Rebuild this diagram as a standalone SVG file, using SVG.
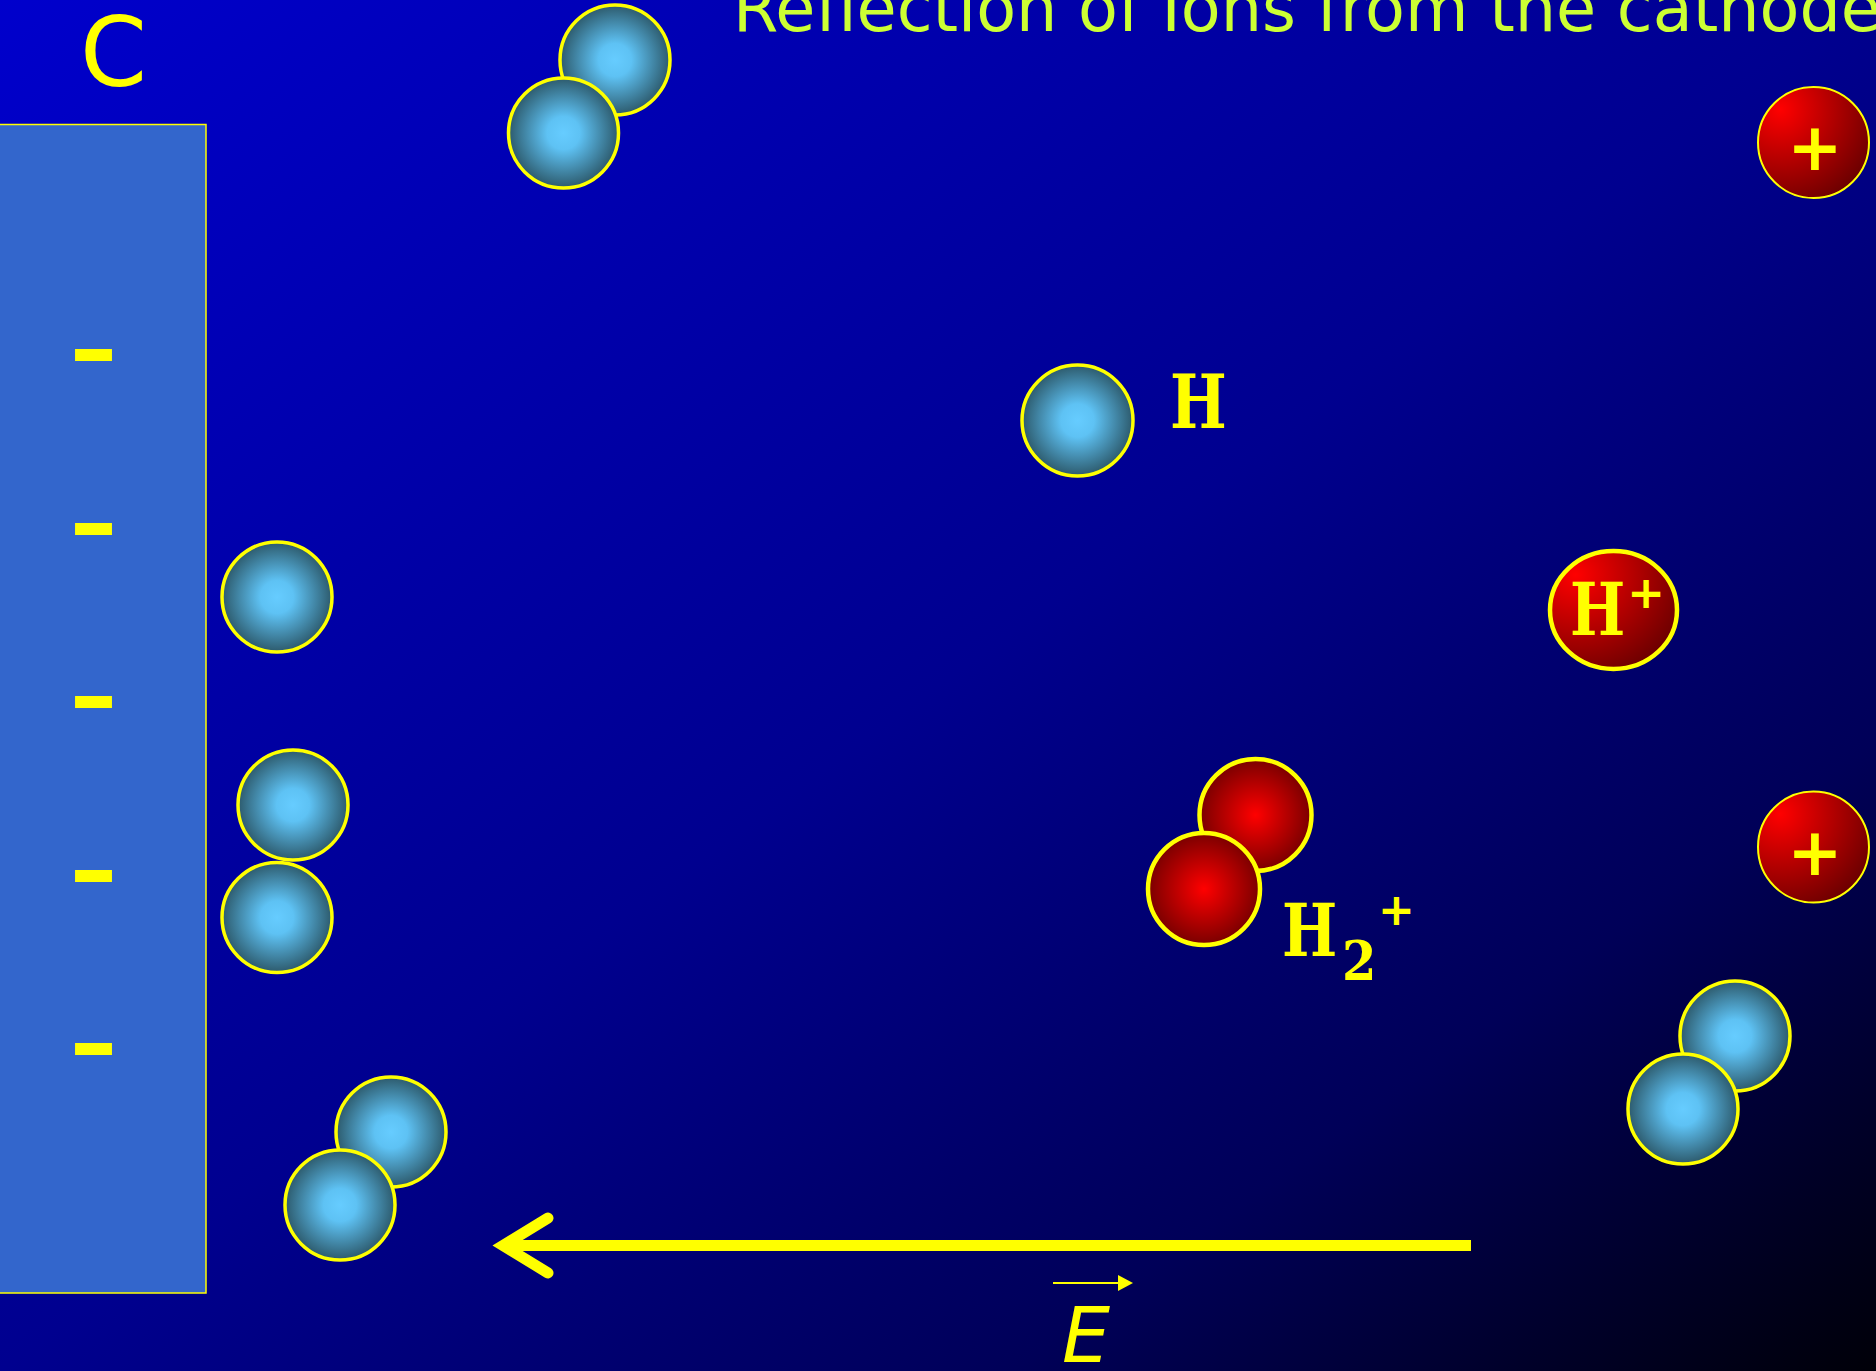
<svg xmlns="http://www.w3.org/2000/svg" width="1876" height="1371" viewBox="0 0 1876 1371">
  <defs>
    <linearGradient id="bg" x1="0" y1="0" x2="1" y2="1">
      <stop offset="0" stop-color="#0000cc"/>
      <stop offset="0.5" stop-color="#00008f"/>
      <stop offset="0.77" stop-color="#000058"/>
      <stop offset="1" stop-color="#000008"/>
    </linearGradient>
    <radialGradient id="gBlue" cx="0.5" cy="0.5" r="0.5">
      <stop offset="0" stop-color="#66ccff"/>
      <stop offset="0.3" stop-color="#5ec2f4"/>
      <stop offset="1" stop-color="#2d5a6c"/>
    </radialGradient>
    <radialGradient id="gIon" cx="0.22" cy="0.22" r="0.95" fx="0.2" fy="0.2">
      <stop offset="0" stop-color="#ff0000"/>
      <stop offset="1" stop-color="#620000"/>
    </radialGradient>
    <radialGradient id="gMol" cx="0.5" cy="0.5" r="0.5">
      <stop offset="0" stop-color="#ff0000"/>
      <stop offset="1" stop-color="#7a0000"/>
    </radialGradient>
  </defs>
  <style>
    .atom { fill: url(#gBlue); stroke: #ffff00; stroke-width: 3.5; }
    .ion { fill: url(#gIon); stroke: #ffff00; stroke-width: 2; }
    .mol { fill: url(#gMol); stroke: #ffff00; stroke-width: 4.5; }
    .sym { font-family: "DejaVu Serif Condensed", "DejaVu Serif", serif; font-weight: bold; fill: #ffff00; }
    .plus { font-family: "DejaVu Sans", Verdana, sans-serif; font-weight: bold; fill: #ffff00; text-anchor: middle; }
    .minus { font-family: "DejaVu Sans", Verdana, sans-serif; font-weight: bold; fill: #ffff00; font-size: 94px; text-anchor: middle; }
  </style>

  <!-- background -->
  <rect x="0" y="0" width="1876" height="1371" fill="url(#bg)"/>

  <g id="title">
    <text x="733" y="31" font-family="DejaVu Sans, Verdana, sans-serif" font-size="65.2" fill="#ccff33">Reflection of Ions from the cathode</text>
  </g>

  <g id="cathode">
    <text x="80" y="86" font-family="DejaVu Sans, Verdana, sans-serif" font-size="96" fill="#ffff00">C</text>
    <rect x="-2" y="124.5" width="208" height="1168.5" fill="#3366cc" stroke="#ffff00" stroke-width="1.5"/>
    <text class="minus" x="93.5" y="381">–</text>
    <text class="minus" x="93.5" y="554.5">–</text>
    <text class="minus" x="93.5" y="728">–</text>
    <text class="minus" x="93.5" y="901.5">–</text>
    <text class="minus" x="93.5" y="1075">–</text>
  </g>

  <!-- neutral H2 molecules and H atoms -->
  <g id="molecule-top">
    <circle class="atom" cx="615" cy="60" r="55"/>
    <circle class="atom" cx="563.5" cy="133" r="55"/>
  </g>
  <g id="atom-h">
    <circle class="atom" cx="1077.5" cy="420.5" r="55.5"/>
    <text class="sym" transform="translate(1170 428) scale(0.89 1)" font-size="75">H</text>
  </g>
  <g id="atom-wall-1">
    <circle class="atom" cx="277" cy="597" r="55"/>
  </g>
  <g id="atom-wall-2">
    <circle class="atom" cx="293" cy="805" r="55"/>
  </g>
  <g id="atom-wall-3">
    <circle class="atom" cx="277" cy="917.5" r="55"/>
  </g>
  <g id="molecule-bottom-left">
    <circle class="atom" cx="391" cy="1132" r="55"/>
    <circle class="atom" cx="340" cy="1205" r="55"/>
  </g>
  <g id="molecule-bottom-right">
    <circle class="atom" cx="1735" cy="1036" r="55"/>
    <circle class="atom" cx="1683" cy="1109" r="55"/>
  </g>

  <!-- positive ions -->
  <g id="ion-top">
    <circle class="ion" cx="1813.5" cy="142.5" r="55.5"/>
    <text class="plus" x="1815" y="170" font-size="66">+</text>
  </g>
  <g id="ion-bottom">
    <circle class="ion" cx="1813.5" cy="847" r="55.5"/>
    <text class="plus" x="1815" y="875" font-size="66">+</text>
  </g>
  <g id="ion-h-plus">
    <ellipse cx="1613.5" cy="610" rx="63.5" ry="59" fill="url(#gIon)" stroke="#ffff00" stroke-width="4.5"/>
    <text class="sym" transform="translate(1570 635) scale(0.89 1)" font-size="73">H</text>
    <text class="plus" x="1646" y="608" font-size="45">+</text>
  </g>
  <g id="ion-h2-plus">
    <circle class="mol" cx="1255.5" cy="815" r="56"/>
    <circle class="mol" cx="1204" cy="889" r="56"/>
    <text class="sym" transform="translate(1282 956) scale(0.89 1)" font-size="73">H</text>
    <text class="sym" x="1342" y="980" font-size="55">2</text>
    <text class="plus" x="1396.5" y="925" font-size="44">+</text>
  </g>

  <!-- electric field -->
  <g id="field-arrow" fill="none" stroke="#ffff00">
    <line x1="505" y1="1245.5" x2="1471" y2="1245.5" stroke-width="11"/>
    <polyline points="548,1218 503,1245.5 548,1273" stroke-width="11" stroke-linecap="round" stroke-linejoin="miter"/>
  </g>
  <g id="field-label">
    <line x1="1053" y1="1283" x2="1121" y2="1283" stroke="#ffff00" stroke-width="2"/>
    <polygon points="1118,1275 1133,1283 1118,1291" fill="#ffff00"/>
    <text x="1062" y="1362" font-family="DejaVu Sans, Verdana, sans-serif" font-style="italic" font-size="76" fill="#ffff00">E</text>
  </g>
</svg>
